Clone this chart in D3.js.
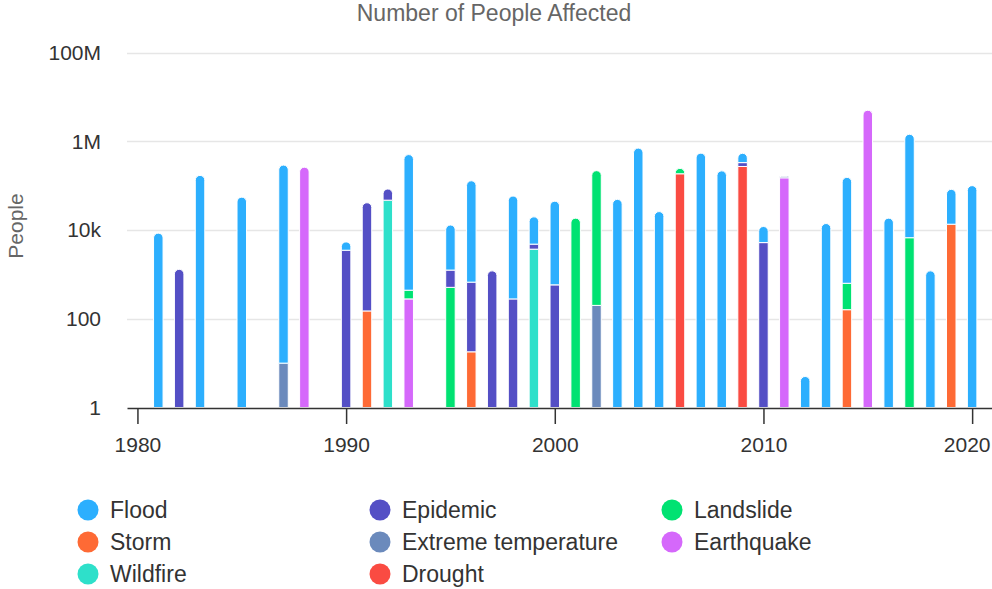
<!DOCTYPE html>
<html>
<head>
<meta charset="utf-8">
<script src="https://cdn.jsdelivr.net/npm/d3@7"></script>
<style>
  body { margin: 0; background: #fff; }
  svg { display: block; font-family: "Liberation Sans", Arial, Helvetica, sans-serif; }
</style>
</head>
<body>
<script>
// Years that have at least one recorded disaster
const years = [1981,1982,1983,1985,1987,1988,1990,1991,1992,1993,1995,1996,1997,1998,1999,2000,2001,2002,2003,2004,2005,2006,2007,2008,2009,2010,2011,2012,2013,2014,2015,2016,2017,2018,2019,2020];

// People affected per disaster type, aligned with `years` (0 = none recorded)
const flood      = [8500,0,170000,55000,290000,0,1900,0,0,500000,11700,128000,0,58000,15000,44000,0,0,49000,700000,26000,0,540000,215000,205000,6800,0,5,14000,153000,0,18500,1430000,1200,69000,100000];
const epidemic   = [0,1300,0,0,0,0,3500,41000,37000,0,740,650,1200,280,1100,580,0,0,0,0,0,0,0,0,60000,5200,0,0,0,0,0,0,0,0,0,0];
const landslide  = [0,0,0,0,0,0,0,0,0,160,510,0,0,0,0,0,18500,217000,0,0,0,60000,0,0,0,0,0,0,0,470,0,0,6700,0,0,0];
const storm      = [0,0,0,0,0,0,0,150,0,0,0,18,0,0,0,0,0,0,0,0,0,0,0,0,0,0,0,0,0,160,0,0,0,0,13500,0];
const extremeTemperature = [0,0,0,0,10,0,0,0,0,0,0,0,0,0,0,0,0,200,0,0,0,0,0,0,0,0,12000,0,0,0,0,0,0,0,0,0];
const earthquake = [0,0,0,0,0,260000,0,0,0,280,0,0,0,0,0,0,0,0,0,0,0,0,0,0,0,0,150000,0,0,0,5000000,0,0,0,0,0];
const wildfire   = [0,0,0,0,0,0,0,0,47000,0,0,0,0,0,3700,0,0,0,0,0,0,0,0,0,0,0,0,0,0,0,0,0,0,0,0,0];
const drought    = [0,0,0,0,0,0,0,0,0,0,0,0,0,0,0,0,0,0,0,0,0,185000,0,0,270000,0,0,0,0,0,0,0,0,0,0,0];

const seriesNames = ["Flood","Epidemic","Landslide","Storm","Extreme temperature","Earthquake","Wildfire","Drought"];
const seriesColors = ["#2caffe","#544fc5","#00e272","#fe6a35","#6b8abc","#d568fb","#2ee0ca","#fa4b42"];
const seriesValues = [flood, epidemic, landslide, storm, extremeTemperature, earthquake, wildfire, drought];

const xTicks = [1980,1990,2000,2010,2020];
const yTicks = [1,100,10000,1000000,100000000];

const W = 992, H = 589;
const svg = d3.select("body").append("svg").attr("width", W).attr("height", H);

const x = d3.scaleLinear().domain([1979.5, 2021]).range([127, 993]);
const y = d3.scaleLog().domain([1, 1e8]).range([407.5, 52.5]);
const color = d3.scaleOrdinal().domain(seriesNames).range(seriesColors);

// Title
svg.append("text")
  .attr("x", 494).attr("y", 21)
  .attr("text-anchor", "middle")
  .attr("fill", "#666666")
  .style("font-size", "23px")
  .text("Number of People Affected");

// Horizontal grid
svg.append("g")
  .selectAll("line")
  .data(yTicks.slice(1))
  .join("line")
  .attr("x1", 127).attr("x2", 992)
  .attr("y1", d => Math.round(y(d)) + 0.5).attr("y2", d => Math.round(y(d)) + 0.5)
  .attr("stroke", "#e6e6e6").attr("stroke-width", 1.5);

// Y labels
svg.append("g")
  .selectAll("text")
  .data(yTicks)
  .join("text")
  .attr("x", 101).attr("y", d => y(d))
  .attr("dy", "0.35em")
  .attr("text-anchor", "end")
  .attr("fill", "#333333")
  .style("font-size", "21px")
  .text(d3.format("~s"));

// Y axis title
svg.append("text")
  .attr("transform", "translate(23,226) rotate(-90)")
  .attr("text-anchor", "middle")
  .attr("fill", "#666666")
  .style("font-size", "21px")
  .text("People");

// Stacked bars (first series drawn on top of the stack)
const rows = years.map((yr, i) => {
  const r = { year: yr };
  seriesNames.forEach((n, k) => r[n] = seriesValues[k][i]);
  return r;
});
const stackKeys = seriesNames.slice().reverse();
const layers = d3.stack().keys(stackKeys)(rows);

// index of the top-most non-empty layer per year
const topLayer = rows.map(r => {
  let t = -1;
  stackKeys.forEach((k, li) => { if (r[k] > 0) t = li; });
  return t;
});

const barW = 9.5;
function segPath(x0, x1, yT, yB, rounded) {
  if (!rounded) return `M${x0},${yB}L${x0},${yT}L${x1},${yT}L${x1},${yB}Z`;
  const r = Math.min((x1 - x0) / 2, yB - yT);
  return `M${x0},${yB}L${x0},${yT + r}A${r},${r} 0 0 1 ${x0 + r},${yT}` +
         `L${x1 - r},${yT}A${r},${r} 0 0 1 ${x1},${yT + r}L${x1},${yB}Z`;
}

const gBars = svg.append("g");
layers.forEach((layer, li) => {
  gBars.append("g")
    .attr("fill", color(layer.key))
    .selectAll("path")
    .data(layer.map((d, i) => ({ d, i })).filter(o => o.d[1] > o.d[0]))
    .join("path")
    .attr("d", o => {
      const cx = x(rows[o.i].year);
      const y0 = y(Math.max(1, o.d[0]));
      const y1 = y(o.d[1]);
      return segPath(cx - barW / 2, cx + barW / 2, y1, y0, topLayer[o.i] === li);
    })
    .attr("stroke", "#ffffff").attr("stroke-width", 1);
});

// X axis
const xAxis = svg.append("g")
  .attr("transform", "translate(0,408)")
  .call(d3.axisBottom(x).tickValues(xTicks).tickFormat(d3.format("d"))
    .tickSize(16).tickSizeOuter(0).tickPadding(13));
xAxis.select(".domain").attr("stroke", "#333333").attr("stroke-width", 1.5);
xAxis.selectAll(".tick line").attr("stroke", "#333333").attr("stroke-width", 1.5);
xAxis.selectAll(".tick text")
  .attr("fill", "#333333")
  .style("font-size", "21px")
  .style("font-family", "'Liberation Sans', Arial, sans-serif");
// keep the last label inside the chart edge
xAxis.selectAll(".tick").filter(d => d === xTicks[xTicks.length - 1]).select("text")
  .attr("text-anchor", "end")
  .attr("x", W - 2 - x(xTicks[xTicks.length - 1]));

// Legend (three columns, filled row by row)
const legend = svg.append("g");
seriesNames.forEach((n, k) => {
  const col = k % 3, row = Math.floor(k / 3);
  const cx = 88 + col * 292, cy = 510 + row * 32;
  const g = legend.append("g").attr("transform", `translate(${cx},${cy})`);
  g.append("circle").attr("r", 10.5).attr("fill", color(n));
  g.append("text")
    .attr("x", 22).attr("dy", "0.35em")
    .attr("fill", "#333333")
    .style("font-size", "23px")
    .text(n);
});
</script>
</body>
</html>
